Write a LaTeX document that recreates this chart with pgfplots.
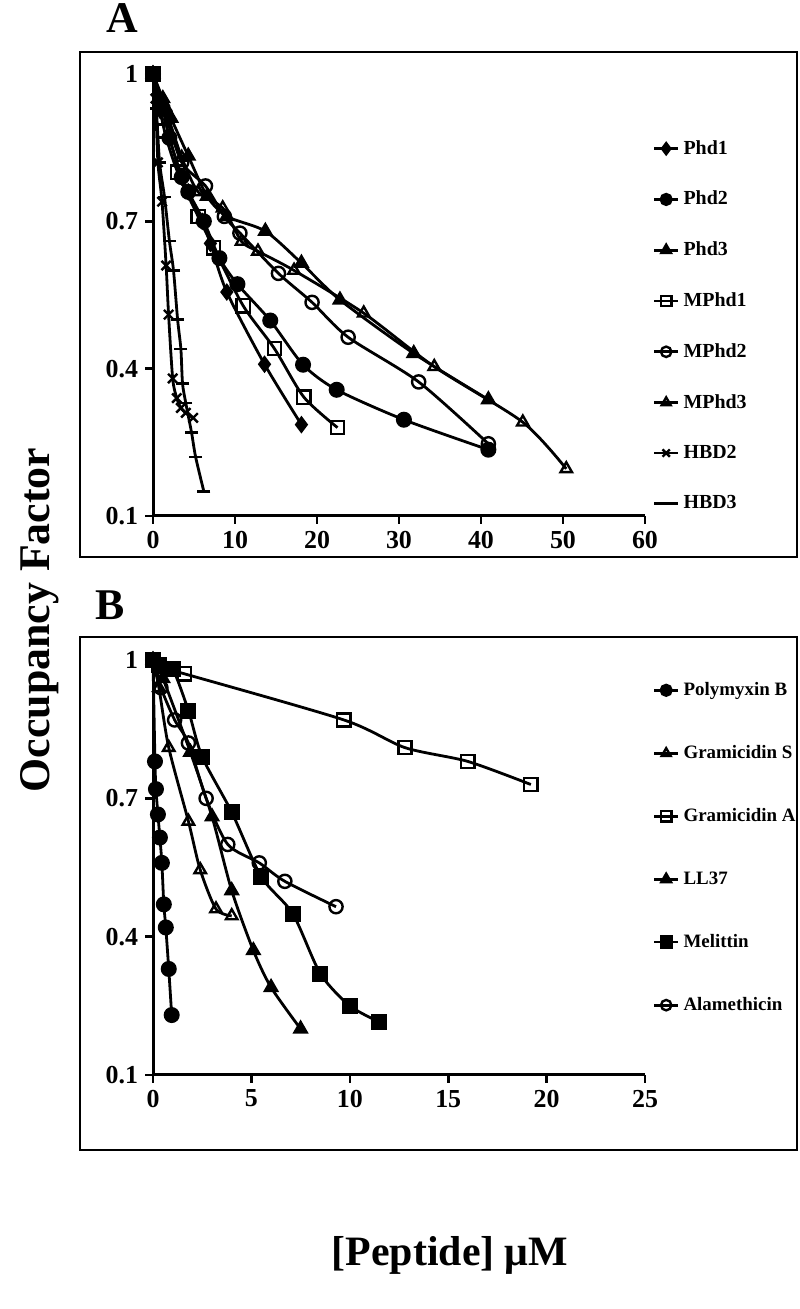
\documentclass[border=0pt]{standalone}
\usepackage{fontspec}
\setmainfont{Liberation Serif}
\usepackage{pgfplots}
\pgfplotsset{compat=1.18}
\usetikzlibrary{plotmarks}
\pgfplotsset{
  myax/.style={
    scale only axis, anchor=south west,
    axis lines*=left,
    axis line style={line width=1.5bp},
    tick align=outside, major tick length=4bp,
    tick style={line width=1.3bp, black},
    ymin=0.1, ymax=1, ytick={0.1,0.4,0.7,1},
    yticklabels={0.1,0.4,0.7,1},
    ticklabel style={font=\bfseries\fontsize{13}{13}\selectfont},
    /pgf/number format/assume math mode=true,
    clip=false,
    legend cell align=left,
    legend image code/.code={\draw[mark repeat=2,mark phase=2,##1,mark size=2.6bp] plot coordinates {(0bp,0bp) (6bp,0bp) (12bp,0bp)};},
    every axis plot/.append style={line width=1.4bp, black, mark size=3.3bp, smooth, tension=0.45},
  },
  op/.style={mark options={fill=white, solid, line width=1.2bp}},
  cl/.style={mark options={fill=black, solid}},
}
\begin{document}
\begin{tikzpicture}
\path[use as bounding box, fill=white] (0bp,0bp) rectangle (400bp,654.5bp);
\draw[line width=1bp] (40bp,376bp) rectangle (398.5bp,628.5bp);
\draw[line width=1bp] (40bp,79.5bp) rectangle (398.5bp,336bp);
\node[font=\bfseries\fontsize{22}{22}\selectfont] at (61bp,645.5bp) {A};
\node[font=\bfseries\fontsize{22}{22}\selectfont] at (55bp,352bp) {B};
\node[font=\bfseries\fontsize{22}{22}\selectfont, rotate=90] at (20bp,344.5bp) {Occupancy Factor};
\node[font=\bfseries\fontsize{21}{21}\selectfont] at (225bp,27bp) {[Peptide] μM};

\begin{axis}[myax, width=246bp, height=221bp, at={(76.5bp,396.5bp)},
  xmin=0, xmax=60, xtick={0,10,...,60},
  legend style={draw=none, fill=none, at={(1.015,0.86)}, anchor=north west,
    inner sep=0pt, font=\bfseries\fontsize{10}{12}\selectfont, row sep=13bp},
]
\addplot[mark=diamond*, cl] coordinates {(0,1) (1.2,0.93) (2.0,0.87) (3.5,0.79) (4.3,0.76) (6.0,0.70) (7.0,0.655) (9.0,0.556) (13.6,0.409) (18.1,0.286)};
\addlegendentry{Phd1}
\addplot[mark=*, cl] coordinates {(0,1) (1.2,0.93) (2.0,0.87) (3.5,0.79) (4.3,0.76) (6.2,0.70) (8.1,0.625) (10.3,0.572) (14.3,0.498) (18.3,0.408) (22.4,0.357) (30.6,0.296) (40.9,0.235)};
\addlegendentry{Phd2}
\addplot[mark=triangle*, cl] coordinates {(0,1) (1.2,0.95) (2.2,0.91) (4.3,0.833) (6.6,0.751) (9.0,0.71) (13.7,0.68) (18.1,0.615) (22.8,0.54) (31.8,0.431) (40.9,0.337)};
\addlegendentry{Phd3}
\addplot[mark=square, op] coordinates {(0,1) (1.4,0.884) (3.0,0.80) (5.5,0.71) (7.4,0.646) (11.0,0.528) (14.8,0.441) (18.4,0.342) (22.5,0.280)};
\addlegendentry{MPhd1}
\addplot[mark=o, op] coordinates {(0,1) (1.5,0.92) (3.5,0.82) (6.4,0.772) (8.7,0.71) (10.6,0.676) (15.3,0.594) (19.4,0.535) (23.8,0.464) (32.4,0.373) (40.9,0.247)};
\addlegendentry{MPhd2}
\addplot[mark=triangle, op] coordinates {(0,1) (1.5,0.93) (3.5,0.83) (5.5,0.76) (8.5,0.727) (10.8,0.659) (12.8,0.639) (17.2,0.600) (25.7,0.513) (34.3,0.404) (45.1,0.291) (50.4,0.196)};
\addlegendentry{MPhd3}
\addplot[mark=x, mark options={solid, line width=1.2bp}] coordinates {(0,1) (0.3,0.95) (0.6,0.82) (1.1,0.74) (1.6,0.61) (1.9,0.51) (2.4,0.38) (2.9,0.34) (3.4,0.32) (4.0,0.31) (4.9,0.30)};
\addlegendentry{HBD2}
\addplot[mark=-, mark options={solid, line width=1.2bp}] coordinates {(0,1) (0.4,0.93) (0.8,0.82) (1.4,0.75) (2.0,0.66) (2.5,0.60) (3.0,0.50) (3.4,0.44) (3.6,0.37) (4.0,0.33) (4.7,0.27) (5.2,0.22) (6.2,0.15)};
\addlegendentry{HBD3}
\end{axis}

\begin{axis}[myax, width=246bp, height=207.5bp, at={(76.5bp,117bp)},
  xmin=0, xmax=25, xtick={0,5,...,25},
  legend style={draw=none, fill=none, at={(1.015,0.957)}, anchor=north west,
    inner sep=0pt, font=\bfseries\fontsize{9.5}{11}\selectfont, row sep=19.5bp},
]
\addplot[mark=*, cl] coordinates {(0,1) (0.1,0.78) (0.15,0.72) (0.25,0.665) (0.35,0.615) (0.45,0.56) (0.55,0.47) (0.65,0.42) (0.8,0.33) (0.95,0.23)};
\addlegendentry{Polymyxin B}
\addplot[mark=triangle, op] coordinates {(0,1) (0.3,0.94) (0.8,0.81) (1.8,0.65) (2.4,0.545) (3.2,0.46) (4.0,0.445)};
\addlegendentry{Gramicidin S}
\addplot[mark=square, op] coordinates {(0,1) (0.6,0.98) (1.6,0.97) (9.7,0.87) (12.8,0.81) (16.0,0.78) (19.2,0.73)};
\addlegendentry{Gramicidin A}
\addplot[mark=triangle*, cl] coordinates {(0,1) (0.5,0.96) (1.9,0.80) (3.0,0.66) (4.0,0.50) (5.1,0.37) (6.0,0.29) (7.5,0.20)};
\addlegendentry{LL37}
\addplot[mark=square*, cl] coordinates {(0,1) (0.3,0.99) (1.0,0.98) (1.8,0.89) (2.5,0.79) (4.0,0.67) (5.5,0.53) (7.1,0.45) (8.5,0.32) (10.0,0.25) (11.5,0.215)};
\addlegendentry{Melittin}
\addplot[mark=o, op] coordinates {(0,1) (0.4,0.94) (1.1,0.87) (1.8,0.82) (2.7,0.70) (3.8,0.60) (5.4,0.56) (6.7,0.52) (9.3,0.465)};
\addlegendentry{Alamethicin}
\end{axis}
\end{tikzpicture}
\end{document}
